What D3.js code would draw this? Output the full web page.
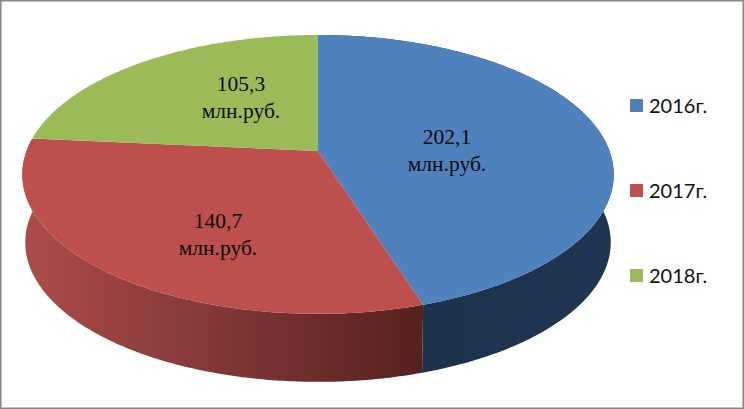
<!DOCTYPE html>
<html>
<head>
<meta charset="utf-8">
<script src="https://cdn.jsdelivr.net/npm/d3@7"></script>
<style>
  html, body { margin: 0; padding: 0; background: #fff; }
  svg { display: block; }
</style>
</head>
<body>
<div id="chart"></div>
<script>
const categories = ["2016г.", "2017г.", "2018г."];
const values = [202.1, 140.7, 105.3];
const value_labels = ["202,1", "140,7", "105,3"];
const unit = "млн.руб.";
const colors = ["#4f81bd", "#bd4f4c", "#9bbb59"];

const width = 744, height = 409;

// top face of the pie: a circle seen in perspective
const apex = { x: 318, y: 151 };
const persp = 0.168, scale_x = 291.5, scale_y = 135.5;
const depth = 68, bottom_shrink = 0.99;

// wall shading, left to right. blue, then red
const wall_stops = [
  [["0%", "#1c3048"], ["100%", "#1f3552"]],
  [["0%", "#ad4d4a"], ["45%", "#85383a"], ["100%", "#55211e"]]
];

// label centres, offset from the apex
const label_offset = [[129, 0], [-100, 84], [-77, -53]];

function project(angle, r, z) {
  const u = Math.sin(angle) * r, v = -Math.cos(angle) * r;
  const d = 1 - persp * v;
  const s = z ? bottom_shrink : 1;
  return [apex.x + s * scale_x * u / d, apex.y + scale_y * v / d + (z ? depth : 0)];
}

const svg = d3.select("#chart").append("svg")
  .attr("width", width)
  .attr("height", height);

svg.append("rect")
  .attr("x", 0.75).attr("y", 0.75)
  .attr("width", width - 1.5).attr("height", height - 1.5)
  .attr("fill", "#fff")
  .attr("stroke", "#868686")
  .attr("stroke-width", 1.5);

const pie = d3.pie().sort(null).value(d => d)(values);
const line = d3.line();

function arc_points(d, z) {
  const n = Math.ceil((d.endAngle - d.startAngle) / 0.01);
  return d3.range(n + 1).map(i => project(d.startAngle + (d.endAngle - d.startAngle) * i / n, 1, z));
}

const defs = svg.append("defs");
wall_stops.forEach((stops, i) => {
  // only the part in front is seen, so the gradient ends at the slice's front corner
  const xs = [
    d3.min(arc_points(pie[i], 0), p => p[0]),
    d3.max(arc_points(pie[i], 0), p => p[0])
  ];
  const grad = defs.append("linearGradient")
    .attr("id", "wall" + i)
    .attr("gradientUnits", "userSpaceOnUse")
    .attr("x1", xs[0]).attr("x2", i == 1 ? project(pie[1].startAngle, 1, 0)[0] : xs[1])
    .attr("y1", 0).attr("y2", 0);
  stops.forEach(s => grad.append("stop").attr("offset", s[0]).attr("stop-color", s[1]));
});

// walls first, top faces cover whatever is behind them
// only blue and red have a visible wall
[0, 1].forEach(i => {
  const pts = arc_points(pie[i], 0).concat(arc_points(pie[i], 1).reverse());
  svg.append("path")
    .attr("d", line(pts) + "Z")
    .attr("fill", "url(#wall" + i + ")");
});

pie.forEach((d, i) => {
  const pts = [[apex.x, apex.y]].concat(arc_points(d, 0));
  svg.append("path")
    .attr("d", line(pts) + "Z")
    .attr("fill", colors[i]);
});

// data labels
const labels = svg.append("g")
  .attr("font-family", "'Liberation Serif', serif")
  .attr("font-size", 21.5)
  .attr("fill", "#0a0a0a")
  .attr("text-anchor", "middle");

value_labels.forEach((t, i) => {
  const cx = apex.x + label_offset[i][0], cy = apex.y + label_offset[i][1];
  labels.append("text").attr("x", cx).attr("y", cy - 7).text(t);
  labels.append("text").attr("x", cx).attr("y", cy + 20).text(unit);
});

// legend
const legend_y = d3.scalePoint().domain(categories).range([106, 276]);
const legend = svg.append("g");
categories.forEach((c, i) => {
  legend.append("rect")
    .attr("x", 630).attr("y", legend_y(c) - 7)
    .attr("width", 13).attr("height", 13)
    .attr("fill", colors[i]);
  legend.append("text")
    .attr("x", 649).attr("y", legend_y(c) + 7)
    .attr("font-family", "Lato, sans-serif")
    .attr("font-size", 20)
    .attr("fill", "#111")
    .text(c);
});
</script>
</body>
</html>
